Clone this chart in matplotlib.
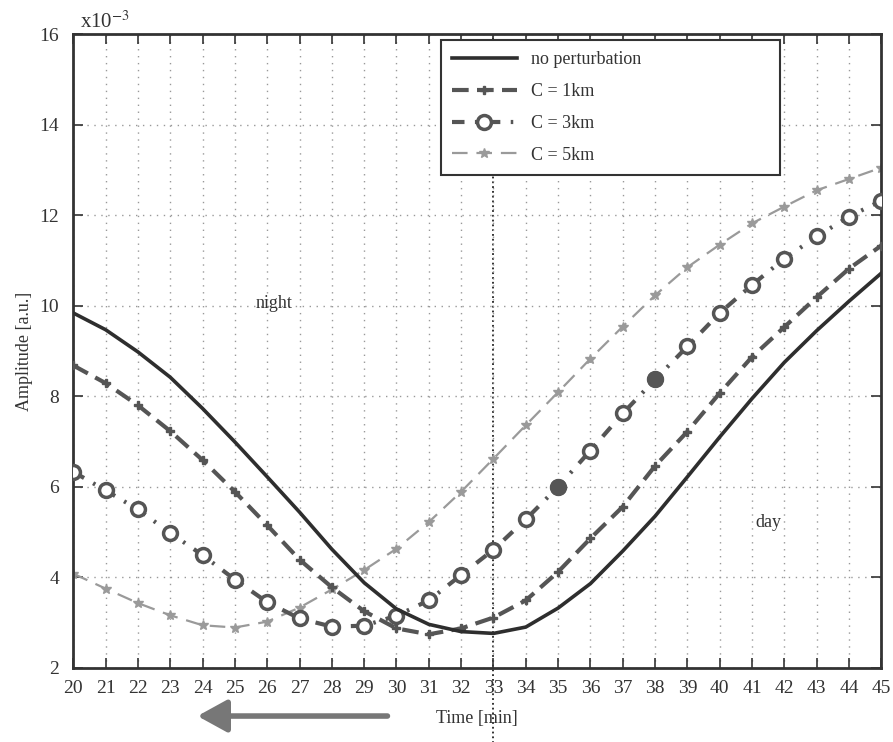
import numpy as np
import matplotlib
matplotlib.use("Agg")
import matplotlib.pyplot as plt

plt.rcParams['font.family'] = ['Liberation Serif', 'DejaVu Serif']
plt.rcParams['mathtext.fontset'] = 'stix'

# temps en minutes
tempo = np.arange(20, 46)

# amplitudes (x10^-3)
sem_perturbacao = [9.84, 9.47, 8.98, 8.42, 7.73, 6.99, 6.22, 5.44, 4.62, 3.88, 3.30, 2.96, 2.80,
                   2.76, 2.90, 3.32, 3.86, 4.58, 5.35, 6.22, 7.10, 7.95, 8.75, 9.45, 10.10, 10.72]
c_1km = [8.68, 8.29, 7.80, 7.23, 6.59, 5.89, 5.15, 4.39, 3.78, 3.25, 2.87, 2.74, 2.87,
         3.11, 3.49, 4.12, 4.86, 5.56, 6.46, 7.22, 8.07, 8.87, 9.53, 10.19, 10.82, 11.33]
c_3km = [6.33, 5.92, 5.50, 4.98, 4.49, 3.95, 3.45, 3.09, 2.91, 2.93, 3.15, 3.49, 4.05,
         4.61, 5.28, 6.00, 6.80, 7.62, 8.37, 9.10, 9.84, 10.46, 11.04, 11.53, 11.97, 12.32]
c_5km = [4.08, 3.75, 3.43, 3.16, 2.94, 2.89, 3.02, 3.33, 3.73, 4.16, 4.63, 5.22, 5.89,
         6.62, 7.36, 8.09, 8.83, 9.54, 10.23, 10.85, 11.35, 11.82, 12.19, 12.55, 12.80, 13.05]
rotulos = ['no perturbation', 'C = 1km', 'C = 3km', 'C = 5km']

fig = plt.figure(figsize=(8.93, 7.42), dpi=100)
ax = fig.add_axes([0.082, 0.100, 0.905, 0.854])

ax.plot(tempo, sem_perturbacao, '-', color='#2e2e2e', lw=2.6, label=rotulos[0], zorder=5)
ax.plot(tempo, c_1km, color='#555555', lw=3, ls=(0, (4, 2)), marker='P', ms=6,
        mec='#555555', label=rotulos[1], zorder=4)
ax.plot(tempo, c_3km, color='#555555', lw=3, ls=(0, (3, 2.5, 0.6, 2.5)), marker='o', ms=10,
        mfc='white', mec='#555555', mew=2.5, label=rotulos[2], zorder=3)
# dois marcadores aparecem cheios no original
cheios = [15, 18]
ax.plot(tempo[cheios], np.array(c_3km)[cheios], 'o', color='#555555', ms=11, zorder=3.5)
ax.plot(tempo, c_5km, color='#9a9a9a', lw=1.6, ls=(0, (7, 4)), marker='*', ms=7,
        mec='#9a9a9a', label=rotulos[3], zorder=2)

ax.set_xlim(20, 45)
ax.set_ylim(2, 16)
ax.set_xticks(range(20, 46))
ax.set_yticks(range(2, 17, 2))
ax.grid(True, ls=(0, (1, 4)), color='#999999', lw=1)
ax.tick_params(direction='in', top=True, right=True, length=7, width=1.2,
               labelsize=14, colors='#333333')
ax.tick_params(axis='x', pad=9)
ax.tick_params(axis='y', pad=10)
for s in ax.spines.values():
    s.set_linewidth(2)
    s.set_color('#333333')

# linha vertical em t = 33 min
ax.axvline(33, ymin=-0.12, ymax=1, color='#222222', ls=':', lw=1.3, clip_on=False, zorder=1)

ax.set_xlabel('Time [min]', fontsize=13, color='#333333', labelpad=9)
ax.set_ylabel('Amplitude [a.u.]', fontsize=13, color='#333333', labelpad=5)

ax.text(26.2, 10.05, 'night', fontsize=13, ha='center', va='center', color='#333333')
ax.text(41.5, 5.22, 'day', fontsize=13, ha='center', va='center', color='#333333')
fig.text(0.09, 0.962, r'x10$^{-3}$', fontsize=15, color='#333333')

# seta
fig.patches.append(matplotlib.patches.FancyArrowPatch(
    (0.437, 0.035), (0.218, 0.035), transform=fig.transFigure,
    arrowstyle='-|>,head_length=1.0,head_width=0.55', mutation_scale=18,
    color='#777777', lw=4))

leg = ax.legend(loc='upper left', bbox_to_anchor=(0.455, 0.99, 0.42, 0.0), mode='expand',
                fontsize=13, handlelength=3.6, fancybox=False, framealpha=1,
                edgecolor='#333333', borderpad=0.6, labelspacing=0.82, borderaxespad=0)
leg.get_frame().set_linewidth(1.5)
for t in leg.get_texts():
    t.set_color('#333333')

fig.savefig('out.png', dpi=100)
